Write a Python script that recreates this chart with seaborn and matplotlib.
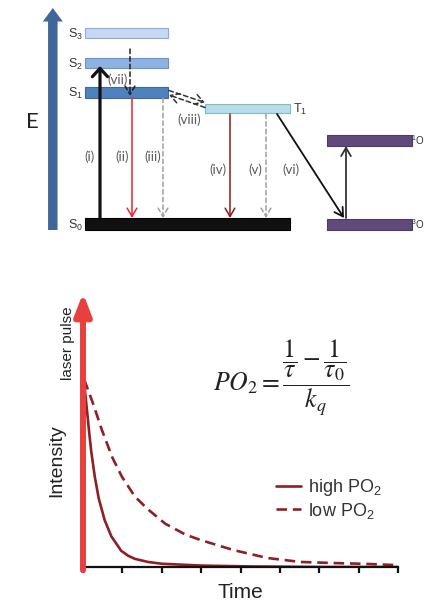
import numpy as np
import pandas as pd
import matplotlib
matplotlib.use("Agg")
import matplotlib.pyplot as plt
import seaborn as sns
from matplotlib.patches import Rectangle, FancyArrow

# ---------------- data: Jablonski diagram ----------------
state_names = ["S$_3$", "S$_2$", "S$_1$", "S$_0$", "T$_1$", "$^1$O", "$^3$O"]
state_energy = [33, 63, 92.5, 224, 108.5, 140, 224.5]        # diagram units (top = high energy)
state_x0 = [85, 85, 85, 85, 205, 327, 327]
state_x1 = [168, 168, 168, 290, 290, 412, 412]
state_fill = ["#c6d9f1", "#8db3e2", "#4f81bd", "#111111", "#b7dde8", "#604a7b", "#604a7b"]
state_edge = ["#8eaadb", "#6c93c9", "#3d6aa6", "#000000", "#86b7c9", "#4d3a66", "#4d3a66"]

trans_labels = ["(i)", "(ii)", "(iii)", "(iv)", "(v)", "(vi)", "(vii)", "(viii)"]

# ---------------- data: phosphorescence decay ----------------
time_high = [0.03, 0.11, 0.15, 0.21, 0.30, 0.40, 0.55, 0.72, 0.97, 1.15, 1.32, 1.65,
             2.0, 3.0, 4.25, 6.0, 8.0]
int_high = [1.02, 0.85, 0.76, 0.64, 0.50, 0.38, 0.26, 0.17, 0.09, 0.062, 0.045, 0.028,
            0.018, 0.008, 0.003, 0.0, 0.0]
time_low = [0.03, 0.25, 0.48, 0.74, 0.99, 1.32, 1.65, 2.09, 2.60, 2.98, 3.82, 4.68,
            5.52, 6.36, 7.23, 7.89]
int_low = [1.04, 0.91, 0.76, 0.61, 0.50, 0.39, 0.32, 0.24, 0.18, 0.15, 0.094, 0.05,
           0.028, 0.022, 0.017, 0.011]
series_labels = ["high PO$_2$", "low PO$_2$"]
time_ticks = [0, 1, 2, 3, 4, 5, 6, 7, 8]

# ---------------- style ----------------
sns.set_style("white")
plt.rcParams["font.family"] = ["Liberation Sans", "DejaVu Sans"]
plt.rcParams["mathtext.fontset"] = "custom"
plt.rcParams["mathtext.rm"] = "Liberation Sans"
plt.rcParams["mathtext.it"] = "Liberation Sans:italic"

fig = plt.figure(figsize=(4.25, 6.05), dpi=100)
fig.patch.set_facecolor("white")

# ---------------- top: diagram ----------------
ax0 = fig.add_axes([0, 0, 1, 1])
ax0.set_xlim(0, 425)
ax0.set_ylim(605, 0)
ax0.axis("off")

ax0.add_patch(FancyArrow(52.8, 230, 0, -222, width=9.5, head_width=20, head_length=13.5,
                         length_includes_head=True, color="#41679a", lw=0))
ax0.text(32, 122, "E", fontsize=16, ha="center", va="center", family="Lato", color="#222222")

heights = [10, 10, 10.5, 11.5, 9.5, 11, 11]
for name, e, x0, x1, fc, ec, h in zip(state_names, state_energy, state_x0, state_x1,
                                      state_fill, state_edge, heights):
    ax0.add_patch(Rectangle((x0, e - h / 2), x1 - x0, h, facecolor=fc, edgecolor=ec, lw=0.8))
    if name.startswith("S"):
        ax0.text(x0 - 2, e + 1, name, ha="right", va="center", fontsize=9, color="#333333")
    elif name.startswith("T"):
        ax0.text(x1 + 3, e + 1, name, ha="left", va="center", fontsize=9, color="#333333")
    else:
        ax0.text(424.4, e, name, ha="right", va="center", fontsize=7, color="#333333")


def arrow(x0, y0, x1, y1, color, lw, ls="-", hl=0.6, hw=0.35):
    ax0.annotate("", xy=(x1, y1), xytext=(x0, y0),
                 arrowprops=dict(arrowstyle=f"->,head_length={hl},head_width={hw}",
                                 color=color, lw=lw, ls=ls, shrinkA=0, shrinkB=0,
                                 mutation_scale=10))


arrow(100, 218, 100, 66, "#111111", 2.3, hl=0.6, hw=0.55)          # (i)
arrow(132, 98, 132, 218, "#e8262b", 1.1)                           # (ii)
arrow(163, 98, 163, 218, "#a0a0a0", 1.1, ls=(0, (3, 2)))           # (iii)
arrow(130, 49, 130, 96, "#222222", 1.1, ls=(0, (3, 2)))            # (vii)
arrow(169, 90.5, 205, 102.5, "#333333", 1.1, ls=(0, (3, 2)))       # (viii) ->
arrow(205, 107.5, 169, 95, "#333333", 1.1, ls=(0, (3, 2)))         # (viii) <-
arrow(230, 114, 230, 218, "#8b1a1f", 1.1)                          # (iv)
arrow(266, 114, 266, 218, "#a0a0a0", 1.1, ls=(0, (3, 2)))          # (v)
arrow(277, 114, 344, 218, "#111111", 1.3)                          # (vi)
arrow(346, 218, 346, 146, "#333333", 1.3)                          # O2 excitation

label_pos = [(90, 157), (122, 157), (153, 157), (218, 170), (255, 170), (291, 170),
             (118, 80), (189, 120)]
for lab, (lx, ly) in zip(trans_labels, label_pos):
    ax0.text(lx, ly, lab, ha="center", va="center", fontsize=9.5, family="Lato",
             color="#595959")

# ---------------- bottom: decay plot ----------------
ax = fig.add_axes([83 / 425, 1 - 567 / 605, (398 - 83) / 425, (567 - 293) / 605])
ax.patch.set_alpha(0)
curve_color = "#8e2025"
sns.lineplot(x=time_high, y=int_high, ax=ax, color=curve_color, lw=1.9,
             label=series_labels[0])
sns.lineplot(x=time_low, y=int_low, ax=ax, color=curve_color, lw=1.9,
             linestyle=(0, (4, 2.2)), label=series_labels[1])
ax.set_xlim(0, 8)
ax.set_ylim(0, 1.52)
ax.set_xticks(time_ticks)
ax.set_xticklabels([])
ax.set_yticks([])
ax.set_xlabel("")
ax.set_ylabel("")
for s in ["top", "right", "left"]:
    ax.spines[s].set_visible(False)
ax.spines["bottom"].set_color("#111111")
ax.spines["bottom"].set_linewidth(1.6)
ax.tick_params(axis="x", direction="out", length=4, width=1.6, color="#111111", bottom=True)

ax.annotate("", xy=(0, 1.0), xycoords="axes fraction", xytext=(0, -0.012),
            textcoords="axes fraction",
            arrowprops=dict(arrowstyle="-|>,head_length=0.65,head_width=0.25",
                            lw=4.3, color="#e8403f", shrinkA=0, shrinkB=0,
                            mutation_scale=20), annotation_clip=False)

leg = ax.legend(loc="upper left", bbox_to_anchor=(276 / 425, 1 - 477 / 605),
                bbox_transform=fig.transFigure, frameon=False, fontsize=13,
                handlelength=1.4, handletextpad=0.4, labelspacing=0.15, borderpad=0,
                borderaxespad=0)
for t in leg.get_texts():
    t.set_color("#333333")

fig.text(57 / 425, 1 - 461 / 605, "Intensity", rotation=90, ha="center", va="center",
         fontsize=14, color="#222222")
fig.text(68 / 425, 1 - 343 / 605, "laser pulse", rotation=90, ha="center", va="center",
         fontsize=11, color="#222222")
fig.text(240 / 425, 1 - 592 / 605, "Time", ha="center", va="center", fontsize=15,
         color="#222222")
fig.text(281 / 425, 1 - 378 / 605,
         r"$PO_2=\dfrac{\dfrac{1}{\tau}-\dfrac{1}{\tau_0}}{k_q}$",
         ha="center", va="center", fontsize=18.5, math_fontfamily="stix", color="#222222")

fig.savefig("out.png", dpi=100, facecolor="white")
